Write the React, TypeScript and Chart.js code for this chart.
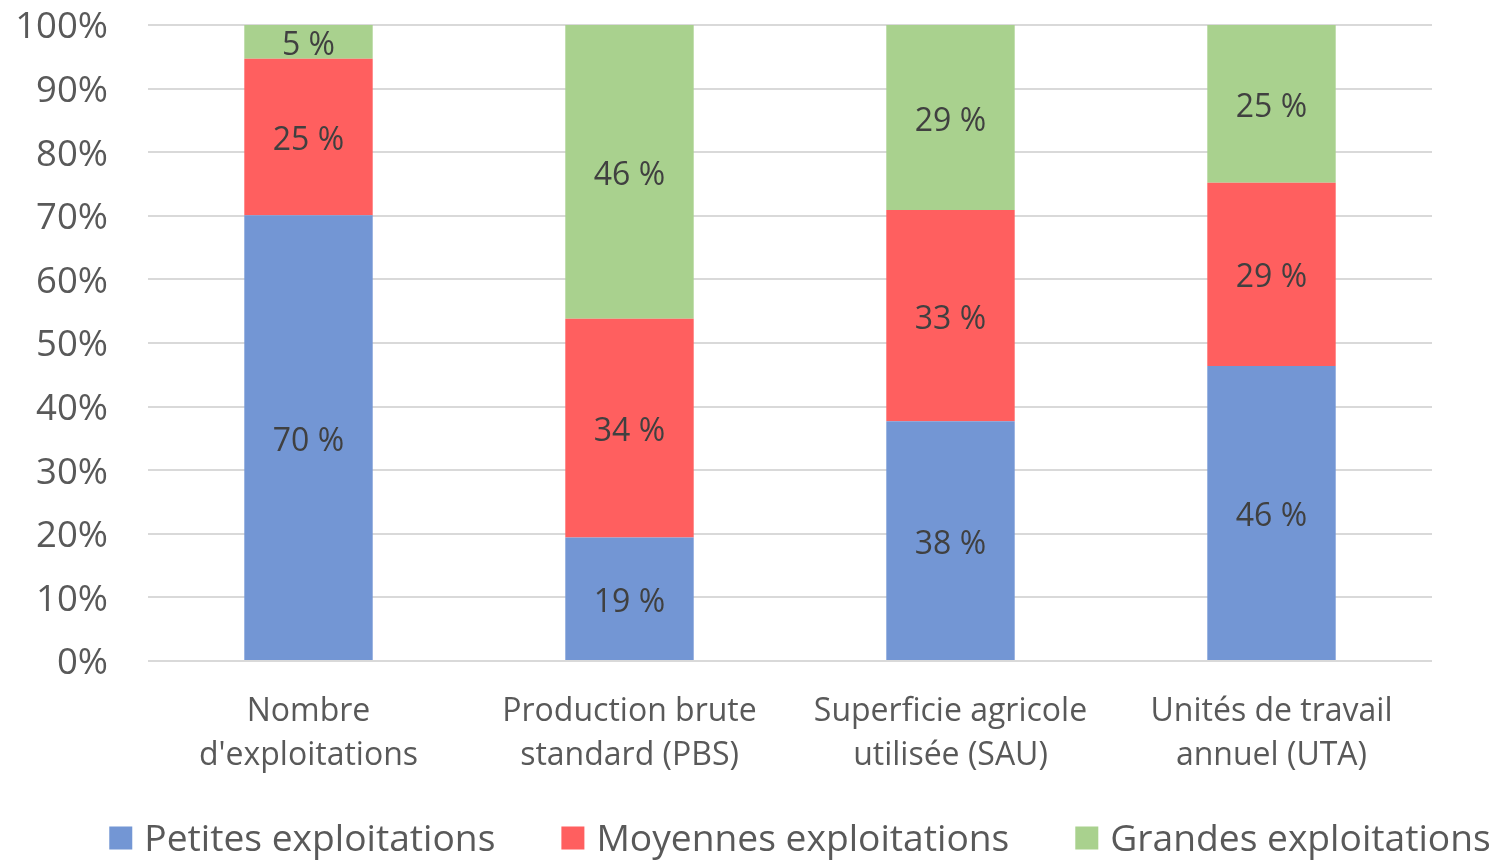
import React, { useEffect, useRef } from "react";
import { Chart, registerables } from "chart.js";

Chart.register(...registerables);

const categories: string[][] = [
  ["Nombre", "d'exploitations"],
  ["Production brute", "standard (PBS)"],
  ["Superficie agricole", "utilisée (SAU)"],
  ["Unités de travail", "annuel (UTA)"],
];

const seriesNames = ["Petites exploitations", "Moyennes exploitations", "Grandes exploitations"];
const petites = [70.1, 19.4, 37.7, 46.4];
const moyennes = [24.6, 34.4, 33.2, 28.8];
const grandes = [5.3, 46.2, 29.1, 24.8];
const seriesColors = ["#7396D4", "#FF5F5F", "#A9D18E"];
const yTicks = [0, 10, 20, 30, 40, 50, 60, 70, 80, 90, 100];

const FONT = "'Open Sans', sans-serif";

const dataLabelPlugin = {
  id: "dataLabels",
  afterDatasetsDraw(chart: any) {
    const ctx = chart.ctx;
    ctx.save();
    ctx.font = `32px ${FONT}`;
    ctx.fillStyle = "#404040";
    ctx.textAlign = "center";
    ctx.textBaseline = "middle";
    chart.data.datasets.forEach((ds: any, di: number) => {
      const meta = chart.getDatasetMeta(di);
      meta.data.forEach((el: any, i: number) => {
        const v = ds.data[i];
        const y = (el.y + el.base) / 2 + 4;
        ctx.fillText(`${Math.round(v)} %`, el.x, y);
      });
    });
    ctx.restore();
  },
};

const legendPlugin = {
  id: "customLegend",
  afterDraw(chart: any) {
    const ctx = chart.ctx;
    ctx.save();
    ctx.font = `37.2px ${FONT}`;
    const box = 23;
    const gapText = 12;
    const gapItem = 66;
    const items = chart.data.datasets.map((ds: any) => ({
      text: ds.label,
      color: ds.backgroundColor,
      w: ctx.measureText(ds.label).width,
    }));
    const total =
      items.reduce((s: number, it: any) => s + box + gapText + it.w, 0) + gapItem * (items.length - 1);
    const ca = chart.chartArea;
    let x = (ca.left + ca.right) / 2 + 10 - total / 2;
    const cy = chart.height - 22;
    ctx.textBaseline = "middle";
    ctx.textAlign = "left";
    items.forEach((it: any) => {
      ctx.fillStyle = it.color;
      ctx.fillRect(x, cy - box / 2, box, box);
      ctx.fillStyle = "#595959";
      ctx.fillText(it.text, x + box + gapText, cy + 2);
      x += box + gapText + it.w + gapItem;
    });
    ctx.restore();
  },
};

export default function App() {
  const ref = useRef<HTMLCanvasElement | null>(null);
  useEffect(() => {
    document.body.style.margin = "0";
    if (!ref.current) return;
    const chart = new Chart(ref.current, {
      type: "bar",
      data: {
        labels: categories,
        datasets: [
          { label: seriesNames[0], data: petites, backgroundColor: seriesColors[0] },
          { label: seriesNames[1], data: moyennes, backgroundColor: seriesColors[1] },
          { label: seriesNames[2], data: grandes, backgroundColor: seriesColors[2] },
        ].map((d) => ({ ...d, categoryPercentage: 1, barPercentage: 0.4, borderWidth: 0 })),
      },
      options: {
        animation: false,
        responsive: false,
        devicePixelRatio: 1,
        layout: { padding: { top: 25, right: 67, bottom: 60, left: 0 } },
        plugins: { legend: { display: false }, tooltip: { enabled: false } },
        scales: {
          x: {
            stacked: true,
            grid: { display: false, drawTicks: false },
            border: { display: false },
            ticks: {
              color: "#595959",
              padding: 28,
              font: { family: FONT, size: 32, lineHeight: 1.4 },
              maxRotation: 0,
              autoSkip: false,
            },
            afterFit: (s: any) => {
              s.height = 139;
              s.paddingLeft = 0;
              s.paddingRight = 0;
            },
          },
          y: {
            stacked: true,
            min: 0,
            max: 100,
            afterBuildTicks: (s: any) => {
              s.ticks = yTicks.map((v) => ({ value: v }));
            },
            grid: { color: "#D9D9D9", lineWidth: 2, drawTicks: false },
            border: { display: false },
            ticks: {
              color: "#595959",
              padding: 40,
              labelOffset: 3,
              font: { family: FONT, size: 36.5 },
              callback: (v: any) => `${v}%`,
            },
            afterFit: (s: any) => {
              s.width = 148;
              s.paddingTop = 0;
              s.paddingBottom = 0;
            },
          },
        },
      },
      plugins: [dataLabelPlugin, legendPlugin],
    });
    return () => chart.destroy();
  }, []);
  return (
    <div style={{ width: 1499, height: 860 }}>
      <canvas ref={ref} width={1499} height={860} style={{ width: 1499, height: 860, display: "block" }} />
    </div>
  );
}
